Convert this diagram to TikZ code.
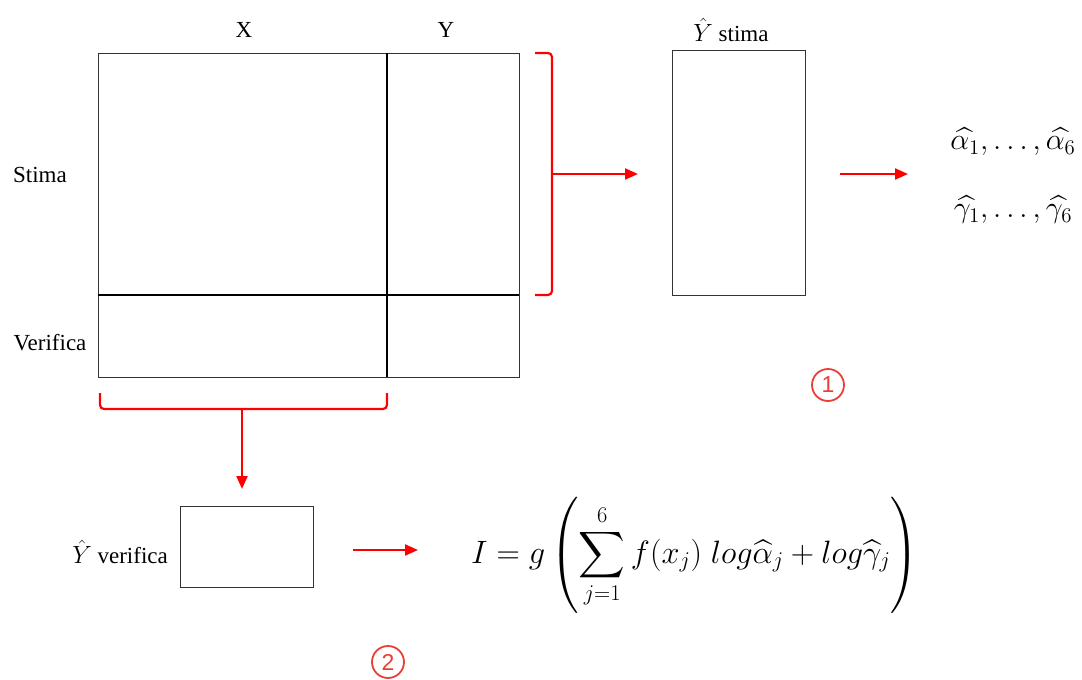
\documentclass[tikz,border=0pt]{standalone}
\usepackage{amsmath}
\usepackage{fontspec}
\setmainfont{Liberation Serif}
\newfontfamily\numfont{Liberation Sans}
\usetikzlibrary{arrows.meta}
\definecolor{numred}{RGB}{232,64,52}
\begin{document}
\begin{tikzpicture}[x=1pt,y=-1pt,
  lab/.style={font=\fontsize{23}{26}\selectfont, inner sep=0pt},
  box/.style={draw=black!80, line width=1.3pt, inner sep=0pt, anchor=north west},
  divline/.style={black, line width=1.9pt},
  redarr/.style={red, line width=2.2pt, -{Triangle[length=13pt,width=11pt]}},
  redbr/.style={red, line width=2.2pt, rounded corners=4pt},
  num/.style={circle, draw=numred, line width=1.8pt, text=numred, minimum size=32pt, inner sep=0pt, font=\numfont\fontsize{23}{25}\selectfont}]
\useasboundingbox (0,0) rectangle (1082,680);
% main grid
\node[box, minimum width=421pt, minimum height=324pt] (grid) at (98,53) {};
\coordinate (vtop) at (387,53);
\coordinate (vbot) at (387,377);
\coordinate (hl) at (98,295);
\coordinate (hr) at (519,295);
\draw[divline] (vtop) -- (vbot);
\draw[divline] (hl) -- (hr);
\node[lab] (xl) at (244,30) {X};
\node[lab] (yl) at (446,30) {Y};
\node[lab] (stl) at (40,175) {Stima};
\node[lab] (vel) at (50,343) {Verifica};
% stima box
\node[box, minimum width=133pt, minimum height=245pt] (ystima) at (672,50) {};
\node[lab] (ysl) at (731,30) {$\hat{Y}$ stima};
% verifica box
\node[box, minimum width=133pt, minimum height=81pt] (yver) at (180,506) {};
\node[lab, anchor=east] (yvl) at (168,552) {$\hat{Y}$ verifica};
% right bracket
\coordinate (bmid) at (552,174);
\draw[redbr] (535,53) -- (552,53) -- (552,295) -- (535,295);
\coordinate (a1e) at (638,174);
\draw[redarr] (bmid) -- (a1e);
% params
\node[font=\fontsize{21}{24}\selectfont, inner sep=0pt, scale=1.45] (alp) at (1013,142) {$\widehat{\alpha_1},\ldots,\widehat{\alpha_6}$};
\node[font=\fontsize{21}{24}\selectfont, inner sep=0pt, scale=1.45] (gam) at (1013,210) {$\widehat{\gamma_1},\ldots,\widehat{\gamma_6}$};
\coordinate (a2s) at (840,174);
\coordinate (a2e) at (908,174);
\draw[redarr] (a2s) -- (a2e);
% bottom bracket
\coordinate (bbmid) at (242,409);
\draw[redbr] (100,393) -- (100,409) -- (387,409) -- (387,393);
\coordinate (a3e) at (242,489);
\draw[redarr] (bbmid) -- (a3e);
% formula arrow
\coordinate (a4s) at (353,550);
\coordinate (a4e) at (418,550);
\draw[redarr] (a4s) -- (a4e);
\node[font=\fontsize{25}{30}\selectfont, inner sep=0pt, scale=1.3] (form) at (695,555)
  {$\displaystyle I = g\left(\sum_{j=1}^{6} f(x_j)\; log\widehat{\alpha}_j + log\widehat{\gamma}_j\right)$};
% numbers
\node[num] (n1) at (828,385) {1};
\node[num] (n2) at (388,662) {2};
\end{tikzpicture}
\end{document}
